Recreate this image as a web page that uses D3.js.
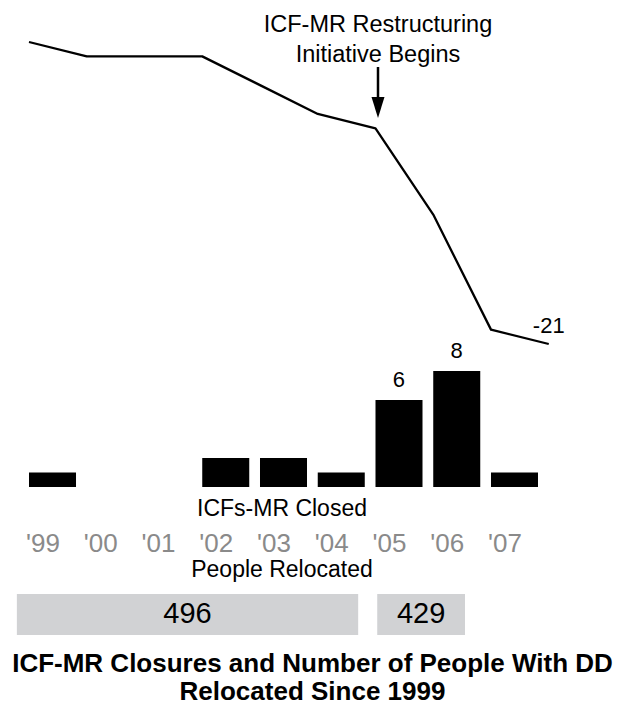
<!DOCTYPE html>
<html>
<head>
<meta charset="utf-8">
<script src="https://cdn.jsdelivr.net/npm/d3@7"></script>
<style>
  body { margin: 0; background: #fff; }
  text { font-family: "Liberation Sans", Arial, Helvetica, sans-serif; }
</style>
</head>
<body>
<div id="chart"></div>
<script>
// Data
var years = ["'99", "'00", "'01", "'02", "'03", "'04", "'05", "'06", "'07"];
var closedCounts = [1, 0, 0, 2, 2, 1, 6, 8, 1];
// cumulative change in ICFs-MR, start of 1999 .. start of 2008
var lineYears = [1999, 2000, 2001, 2002, 2003, 2004, 2005, 2006, 2007, 2008];
var lineValues = [0, -1, -1, -1, -3, -5, -6, -12, -20, -21];
var relocLabels = ["1999-2004", "2005-2006"];
var relocValues = [496, 429];
var labelledBars = ["'05", "'06"];

var width = 625;
var height = 706;

var svg = d3.select('#chart').append('svg')
    .attr('width', width)
    .attr('height', height);

// Scales
var x = d3.scaleBand()
    .domain(years)
    .range([29, 538])
    .paddingInner(0.186)
    .paddingOuter(0)
    .align(0);

var xLine = d3.scaleLinear()
    .domain([1999, 2008])
    .range([29, 548.75]);

var yLine = d3.scaleLinear()
    .domain([0, -21])
    .range([42, 344]);

var yBar = d3.scaleLinear()
    .domain([0, 8])
    .range([487, 371]);

// Line
var line = d3.line()
    .x(function (d, i) { return xLine(lineYears[i]); })
    .y(function (d) { return yLine(d); });

svg.append('path')
    .datum(lineValues)
    .attr('d', line)
    .attr('fill', 'none')
    .attr('stroke', '#000')
    .attr('stroke-width', 2.3)
    .attr('stroke-linejoin', 'round');

// end label
svg.append('text')
    .attr('x', xLine(lineYears[lineYears.length - 1]))
    .attr('y', yLine(lineValues[lineValues.length - 1]) - 11)
    .attr('text-anchor', 'middle')
    .attr('font-size', 22)
    .text(lineValues[lineValues.length - 1]);

// Annotation with arrow
var ax = xLine(2005) + 2.5;
svg.append('text')
    .attr('x', ax)
    .attr('y', 32)
    .attr('text-anchor', 'middle')
    .attr('font-size', 23.5)
    .text('ICF-MR Restructuring');
svg.append('text')
    .attr('x', ax)
    .attr('y', 62)
    .attr('text-anchor', 'middle')
    .attr('font-size', 23.5)
    .text('Initiative Begins');
svg.append('line')
    .attr('x1', ax).attr('x2', ax)
    .attr('y1', 67).attr('y2', 100)
    .attr('stroke', '#000')
    .attr('stroke-width', 2.5);
svg.append('path')
    .attr('d', 'M' + (ax - 6.5) + ',97L' + (ax + 6.5) + ',97L' + ax + ',118Z')
    .attr('fill', '#000');

// Bars
var barData = years.map(function (y, i) { return {year: y, value: closedCounts[i]}; });

svg.selectAll('rect.bar')
    .data(barData)
    .enter().append('rect')
    .attr('class', 'bar')
    .attr('x', function (d) { return x(d.year); })
    .attr('y', function (d) { return yBar(d.value); })
    .attr('width', x.bandwidth())
    .attr('height', function (d) { return yBar(0) - yBar(d.value); })
    .attr('fill', '#000');

// value labels on the big bars
svg.selectAll('text.val')
    .data(barData.filter(function (d) { return labelledBars.indexOf(d.year) >= 0; }))
    .enter().append('text')
    .attr('class', 'val')
    .attr('x', function (d) { return x(d.year) + x.bandwidth() / 2; })
    .attr('y', function (d) { return yBar(d.value) - 13; })
    .attr('text-anchor', 'middle')
    .attr('font-size', 22)
    .text(function (d) { return d.value; });

svg.append('text')
    .attr('x', 282)
    .attr('y', 516)
    .attr('text-anchor', 'middle')
    .attr('font-size', 23)
    .text('ICFs-MR Closed');

// Year labels
svg.selectAll('text.year')
    .data(years)
    .enter().append('text')
    .attr('class', 'year')
    .attr('x', function (d) { return x(d) - 3; })
    .attr('y', 552)
    .attr('font-size', 26)
    .attr('fill', '#8a8a8a')
    .text(function (d) { return d; });

svg.append('text')
    .attr('x', 282)
    .attr('y', 577)
    .attr('text-anchor', 'middle')
    .attr('font-size', 23)
    .text('People Relocated');

// People relocated boxes (span in year units)
var boxSpans = [[1998.79, 2004.7], [2005.03, 2006.55]];

var boxes = svg.selectAll('g.reloc')
    .data(relocValues)
    .enter().append('g')
    .attr('class', 'reloc');

boxes.append('rect')
    .attr('x', function (d, i) { return xLine(boxSpans[i][0]); })
    .attr('y', 594)
    .attr('width', function (d, i) { return xLine(boxSpans[i][1]) - xLine(boxSpans[i][0]); })
    .attr('height', 41)
    .attr('fill', '#d1d2d4');

boxes.append('text')
    .attr('x', function (d, i) { return (xLine(boxSpans[i][0]) + xLine(boxSpans[i][1])) / 2; })
    .attr('y', 623)
    .attr('text-anchor', 'middle')
    .attr('font-size', 29)
    .text(function (d) { return d; });

// Title
svg.append('text')
    .attr('x', width / 2)
    .attr('y', 672)
    .attr('text-anchor', 'middle')
    .attr('font-size', 26)
    .attr('font-weight', 'bold')
    .text('ICF-MR Closures and Number of People With DD');
svg.append('text')
    .attr('x', width / 2)
    .attr('y', 700)
    .attr('text-anchor', 'middle')
    .attr('font-size', 26)
    .attr('font-weight', 'bold')
    .text('Relocated Since 1999');
</script>
</body>
</html>
